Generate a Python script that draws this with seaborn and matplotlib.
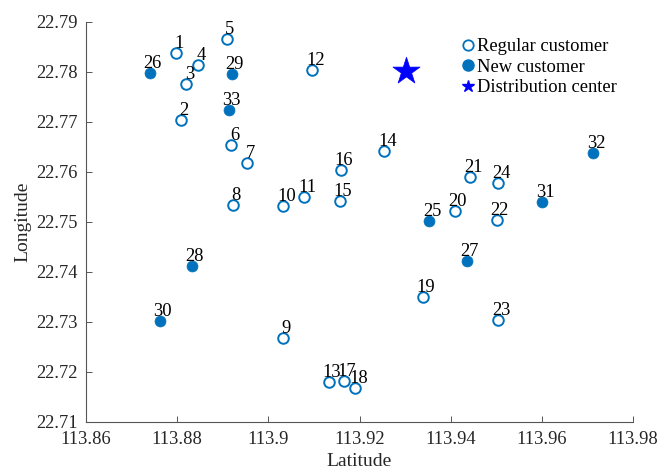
import matplotlib
matplotlib.use("Agg")
import matplotlib.pyplot as plt
from matplotlib.lines import Line2D
import seaborn as sns
import pandas as pd

# ---- data ----
regular_ids = [1, 2, 3, 4, 5, 6, 7, 8, 9, 10, 11, 12, 13, 14, 15, 16, 17, 18, 19, 20, 21, 22, 23, 24]
regular_x = [113.8798, 113.8808, 113.8820, 113.8846, 113.8909, 113.8919, 113.8954, 113.8923,
             113.9033, 113.9033, 113.9079, 113.9096, 113.9132, 113.9254, 113.9157, 113.9159,
             113.9166, 113.9191, 113.9339, 113.9409, 113.9443, 113.9501, 113.9504, 113.9504]
regular_y = [22.7838, 22.7704, 22.7776, 22.7813, 22.7865, 22.7654, 22.7618, 22.7533,
             22.7267, 22.7532, 22.7549, 22.7803, 22.7179, 22.7642, 22.7541, 22.7604,
             22.7181, 22.7168, 22.7350, 22.7522, 22.7589, 22.7503, 22.7303, 22.7578]

new_ids = [25, 26, 27, 28, 29, 30, 31, 32, 33]
new_x = [113.9353, 113.8740, 113.9435, 113.8832, 113.8920, 113.8762, 113.9601, 113.9712, 113.8913]
new_y = [22.7501, 22.7797, 22.7422, 22.7411, 22.7795, 22.7302, 22.7539, 22.7637, 22.7723]

center_x = [113.9302]
center_y = [22.7802]

x_ticks = [113.86, 113.88, 113.90, 113.92, 113.94, 113.96, 113.98]
x_tick_labels = ["113.86", "113.88", "113.9", "113.92", "113.94", "113.96", "113.98"]
y_ticks = [22.71, 22.72, 22.73, 22.74, 22.75, 22.76, 22.77, 22.78, 22.79]
y_tick_labels = ["22.71", "22.72", "22.73", "22.74", "22.75", "22.76", "22.77", "22.78", "22.79"]

legend_labels = ["Regular customer", "New customer", "Distribution center"]

# ---- style ----
sns.set_theme(style="ticks")
plt.rcParams["font.family"] = ["Liberation Serif", "DejaVu Serif"]
plt.rcParams["font.size"] = 13.3

blue = "#0072BD"
txt = "#262626"
fs = 13.3

fig = plt.figure(figsize=(6.58, 4.69), dpi=100)
ax = fig.add_axes([86 / 658, 1 - 421.7 / 469, (633 - 86) / 658, (421.7 - 21.7) / 469])

reg = pd.DataFrame({"x": regular_x, "y": regular_y, "id": regular_ids})
new = pd.DataFrame({"x": new_x, "y": new_y, "id": new_ids})
cen = pd.DataFrame({"x": center_x, "y": center_y})

sns.scatterplot(data=reg, x="x", y="y", ax=ax, marker="o", s=58,
                facecolor="white", edgecolor=blue, linewidth=1.4, legend=False, zorder=3)
sns.scatterplot(data=new, x="x", y="y", ax=ax, marker="o", s=62,
                color=blue, edgecolor=blue, linewidth=0.5, legend=False, zorder=3)
sns.scatterplot(data=cen, x="x", y="y", ax=ax, marker="*", s=420,
                color="#0000FF", edgecolor="#0000FF", linewidth=0.5, legend=False, zorder=3)

for df in (reg, new):
    for xx, yy, i in zip(df["x"], df["y"], df["id"]):
        ax.annotate(str(i), (xx, yy), xytext=(2.2, 3.6), textcoords="offset points",
                    ha="center", va="baseline", fontsize=fs, color="black", zorder=4)

ax.set_xlim(113.86, 113.98)
ax.set_ylim(22.71, 22.79)
ax.set_xticks(x_ticks)
ax.set_xticklabels(x_tick_labels)
ax.set_yticks(y_ticks)
ax.set_yticklabels(y_tick_labels)
ax.tick_params(direction="in", length=4, width=0.7, colors="#555555", labelcolor=txt,
               labelsize=fs)
ax.tick_params(axis="x", pad=7)
ax.tick_params(axis="y", pad=6)
for s in ("top", "right"):
    ax.spines[s].set_visible(False)
for s in ("left", "bottom"):
    ax.spines[s].set_color("#555555")
    ax.spines[s].set_linewidth(0.8)

ax.set_xlabel("Latitude", fontsize=14, color=txt, labelpad=3)
ax.set_ylabel("Longitude", fontsize=14, color=txt, labelpad=3)

handles = [
    Line2D([], [], linestyle="none", marker="o", markersize=7.5, markerfacecolor="white",
           markeredgecolor=blue, markeredgewidth=1.3),
    Line2D([], [], linestyle="none", marker="o", markersize=8, markerfacecolor=blue,
           markeredgecolor=blue),
    Line2D([], [], linestyle="none", marker="*", markersize=9, markerfacecolor="#0000FF",
           markeredgecolor="#0000FF"),
]
fig.legend(handles, legend_labels, loc="upper left",
           bbox_to_anchor=(461 / 658, 1 - 38 / 469), frameon=False,
           borderpad=0, borderaxespad=0, handlelength=0.8, handletextpad=0.05,
           labelspacing=0.2, fontsize=fs, labelcolor="black")

fig.savefig("out.png", dpi=100)
